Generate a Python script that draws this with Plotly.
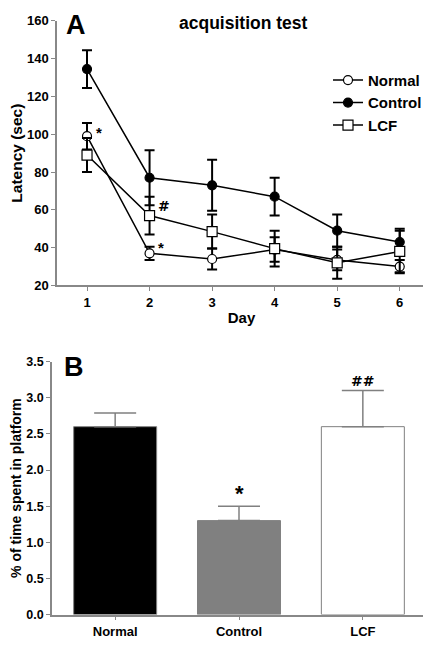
import plotly.graph_objects as go

# ---- Panel A data (acquisition test) ----
days = [1, 2, 3, 4, 5, 6]
normal_mean = [99, 37, 34, 39, 33.5, 30]
normal_err = [7, 3.5, 5.5, 6.5, 5.5, 3.5]
control_mean = [134.5, 77, 73, 67, 49, 43]
control_err = [10, 14.5, 13.5, 10, 8.5, 7]
lcf_mean = [89, 57, 48.5, 39.5, 32, 38]
lcf_err = [9, 10, 9, 9.5, 8.5, 11]
y_ticks_a = [20, 40, 60, 80, 100, 120, 140, 160]

# ---- Panel B data ----
groups = ["Normal", "Control", "LCF"]
pct = [2.6, 1.3, 2.6]
pct_err = [0.19, 0.2, 0.5]
bar_colors = ["#000000", "#808080", "#ffffff"]
y_ticks_b = [0.0, 0.5, 1.0, 1.5, 2.0, 2.5, 3.0, 3.5]

FONT = "Liberation Sans"
# page has an 8px body margin; size the figure to fit the 431x645 window
W, H, OFF = 423, 637, 8


def px_x(X):
    return (X - OFF) / W


def px_y(Y):
    return 1 - (Y - OFF) / H


fig = go.Figure()


def line_trace(name, y, err, symbol, fill):
    return go.Scatter(
        x=days, y=y, name=name, mode="lines+markers",
        line=dict(color="black", width=1.5),
        marker=dict(symbol=symbol, size=10 if "square" in symbol else 9,
                    color=fill, line=dict(color="black", width=1.2)),
        error_y=dict(type="data", array=err, visible=True, color="black",
                     thickness=2, width=5),
        xaxis="x", yaxis="y",
    )


fig.add_trace(line_trace("Normal", normal_mean, normal_err, "circle", "white"))
fig.add_trace(line_trace("Control", control_mean, control_err, "circle", "black"))
fig.add_trace(line_trace("LCF", lcf_mean, lcf_err, "square", "white"))

fig.add_trace(go.Bar(
    x=groups, y=pct, marker=dict(color=bar_colors, line=dict(color="#808080", width=1)),
    width=0.67, showlegend=False,
    error_y=dict(type="data", array=pct_err, arrayminus=[0, 0, 0], symmetric=False,
                 color="#808080", thickness=1.5, width=21),
    xaxis="x2", yaxis="y2",
))


def axis_common(size):
    return dict(showline=True, linecolor="#888888", linewidth=1.5, ticks="outside",
                tickcolor="#888888", ticklen=4, showgrid=False, zeroline=False,
                tickfont=dict(family=FONT, size=size, color="black", weight="bold"))


fig.update_layout(
    width=W, height=H, margin=dict(l=0, r=0, t=0, b=0),
    paper_bgcolor="white", plot_bgcolor="white",
    font=dict(family=FONT, color="black", weight="bold"),
    xaxis=dict(domain=[px_x(57), px_x(426)], range=[0.52, 6.42], tickvals=days, anchor="y",
               title=dict(text="Day", font=dict(family=FONT, size=15, weight="bold"), standoff=4),
               **axis_common(13)),
    yaxis=dict(domain=[px_y(285), px_y(14)], range=[20, 160], tickvals=y_ticks_a, anchor="x",
               title=dict(text="Latency (sec)", font=dict(family=FONT, size=15.5, weight="bold"), standoff=8),
               **axis_common(13)),
    xaxis2=dict(domain=[px_x(52), px_x(426)], range=[-0.51, 2.51], anchor="y2",
                **axis_common(13)),
    yaxis2=dict(domain=[px_y(622), px_y(363)], range=[0, 3.5], tickvals=y_ticks_b, tickformat=".1f",
                anchor="x2",
                title=dict(text="% of time spent in platform", font=dict(family=FONT, size=14, weight="bold"), standoff=8),
                **axis_common(12.5)),
    legend=dict(x=px_x(328), y=px_y(58), xanchor="left", yanchor="top", bgcolor="rgba(0,0,0,0)",
                font=dict(family=FONT, size=15, color="black", weight="bold"),
                tracegroupgap=0, itemwidth=30),
    showlegend=True,
)

ann = [
    dict(text="A", x=px_x(76), y=px_y(18), xref="paper", yref="paper", xanchor="center", yanchor="middle",
         font=dict(size=27, weight="bold")),
    dict(text="acquisition test", x=px_x(243), y=px_y(16), xref="paper", yref="paper", xanchor="center",
         yanchor="middle", font=dict(size=17.5, weight="bold")),
    dict(text="*", x=1, y=101, xref="x", yref="y", xshift=12, font=dict(size=15, weight="bold")),
    dict(text="*", x=2, y=40, xref="x", yref="y", xshift=11, font=dict(size=15, weight="bold")),
    dict(text="#", x=2, y=62, xref="x", yref="y", xshift=14, font=dict(family="DejaVu Sans", size=14, weight="bold")),
    dict(text="B", x=px_x(74), y=px_y(368), xref="paper", yref="paper", xanchor="center", yanchor="middle",
         font=dict(size=27, weight="bold")),
    dict(text="*", x="Control", y=1.67, xref="x2", yref="y2", font=dict(size=22, weight="bold")),
    dict(text="##", x="LCF", y=3.23, xref="x2", yref="y2", font=dict(family="DejaVu Sans", size=14, weight="bold")),
]
for a in ann:
    a.setdefault("showarrow", False)
    a["font"].setdefault("family", FONT)
    a["font"].setdefault("color", "black")
    fig.add_annotation(**a)

fig.write_html("out.html")
